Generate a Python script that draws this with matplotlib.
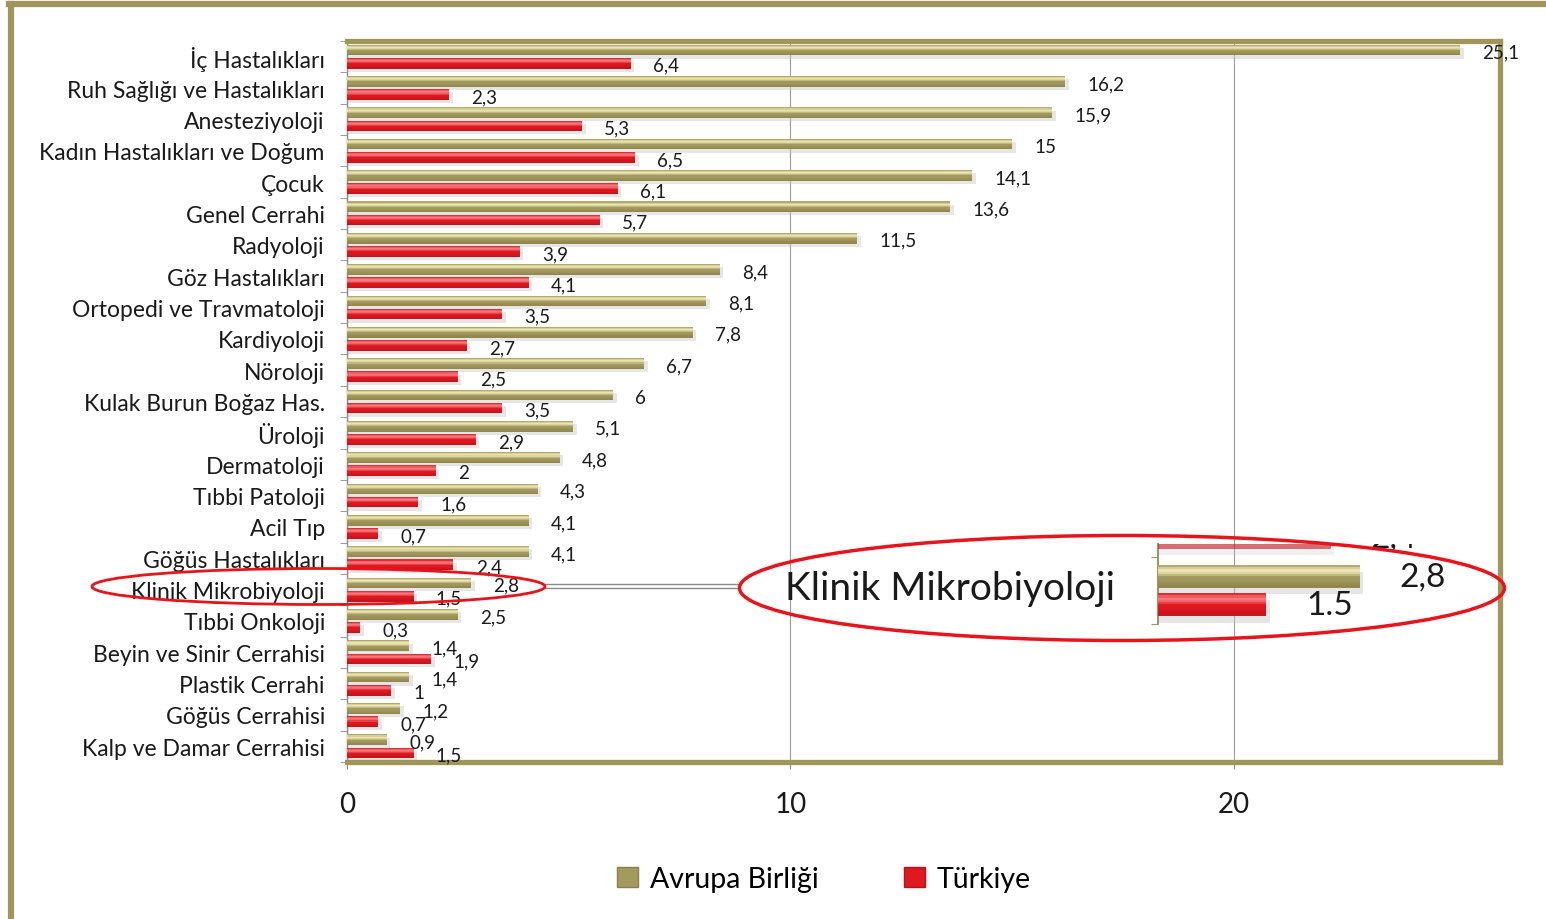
import numpy as np
import matplotlib
matplotlib.use('Agg')
import matplotlib.pyplot as plt
from matplotlib.patches import Ellipse, Patch
from matplotlib.lines import Line2D
from matplotlib.colors import to_rgb
from matplotlib.transforms import offset_copy

plt.rcParams['font.family'] = ['Lato', 'DejaVu Sans']

categories = ['İç Hastalıkları', 'Ruh Sağlığı ve Hastalıkları', 'Anesteziyoloji',
              'Kadın Hastalıkları ve Doğum', 'Çocuk', 'Genel Cerrahi', 'Radyoloji',
              'Göz Hastalıkları', 'Ortopedi ve Travmatoloji', 'Kardiyoloji', 'Nöroloji',
              'Kulak Burun Boğaz Has.', 'Üroloji', 'Dermatoloji', 'Tıbbi Patoloji',
              'Acil Tıp', 'Göğüs Hastalıkları', 'Klinik Mikrobiyoloji', 'Tıbbi Onkoloji',
              'Beyin ve Sinir Cerrahisi', 'Plastik Cerrahi', 'Göğüs Cerrahisi',
              'Kalp ve Damar Cerrahisi']
eu = [25.1, 16.2, 15.9, 15, 14.1, 13.6, 11.5, 8.4, 8.1, 7.8, 6.7, 6, 5.1, 4.8, 4.3,
      4.1, 4.1, 2.8, 2.5, 1.4, 1.4, 1.2, 0.9]
tr = [6.4, 2.3, 5.3, 6.5, 6.1, 5.7, 3.9, 4.1, 3.5, 2.7, 2.5, 3.5, 2.9, 2, 1.6,
      0.7, 2.4, 1.5, 0.3, 1.9, 1, 0.7, 1.5]
xticks = [0, 10, 20]
series = ['Avrupa Birliği', 'Türkiye']
highlight = 'Klinik Mikrobiyoloji'

KHAKI = '#a39a5e'
KHAKI_L = '#ebe4b0'
KHAKI_D = '#8a8048'
RED = '#e01820'
RED_L = '#f47a7e'
RED_D = '#b8121a'
FRAME = '#a0965c'

W, H = 1546, 920
fig = plt.figure(figsize=(W / 100, H / 100), dpi=100)


def fx(px):
    return px / W


def fy(py):
    return 1 - py / H


def fmt(v, sep=','):
    return f'{v:g}'.replace('.', sep)


h = 0.34
off = 0.21
# vertical shading profile of a bar, top -> bottom (0 = base, 1 = light, -1 = dark)
profile = [0.2, 0.7, 1.0, 0.8, 0.4, 0.0, -0.1, -0.3, -0.5, -0.7]


def shade(base, light, dark, t):
    b = np.array(to_rgb(base))
    if t >= 0:
        return tuple(b + (np.array(to_rgb(light)) - b) * t)
    return tuple(b + (np.array(to_rgb(dark)) - b) * (-t))


def bars(ax, ypos, vals, base, light, dark, alpha=1.0, shadow=0.08):
    ypos = np.asarray(ypos, dtype=float)
    vals = np.asarray(vals, dtype=float)
    ax.barh(ypos + 0.1, vals + shadow, height=h, color='#c8c8c8', alpha=0.45 * alpha,
            linewidth=0, zorder=2)
    ns = len(profile)
    dh = h / ns
    for j, t in enumerate(profile):
        yc = ypos - h / 2 + dh * (j + 0.5)
        ax.barh(yc, vals, height=dh * 1.05, color=shade(base, light, dark, t),
                alpha=alpha, linewidth=0, zorder=3)


# main chart
ax = fig.add_axes([fx(347), fy(763), fx(1500) - fx(347), fy(42) - fy(763)])
n = len(categories)
y = np.arange(n)
bars(ax, y - off, eu, KHAKI, KHAKI_L, KHAKI_D)
bars(ax, y + off, tr, RED, RED_L, RED_D)

for i, (a, b) in enumerate(zip(eu, tr)):
    ax.annotate(fmt(a), (a, i - off), xytext=(16, -1.5), textcoords='offset points',
                ha='left', va='center', fontsize=13.5, color='#1a1a1a')
    ax.annotate(fmt(b), (b, i + off), xytext=(16, -1.5), textcoords='offset points',
                ha='left', va='center', fontsize=13.5, color='#1a1a1a')

ax.set_xlim(0, 26)
ax.set_ylim(n - 0.5, -0.5)
ax.set_yticks(y)
ax.set_yticklabels(categories, fontsize=16.5, color='#1a1a1a')
ax.set_yticks(np.arange(n + 1) - 0.5, minor=True)
ax.tick_params(axis='y', which='major', length=0, pad=16)
ax.tick_params(axis='y', which='minor', length=5, color='#8c8c8c', direction='out')
ax.set_xticks(xticks)
ax.tick_params(axis='x', length=5, color='#8c8c8c', labelsize=20, pad=16,
               labelcolor='#1a1a1a')
ax.grid(axis='x', color='#9a9a9a', lw=0.8)
ax.set_axisbelow(True)
ax.spines['left'].set_color('#8c8c8c')
ax.spines['left'].set_linewidth(1)
for s in ['top', 'right', 'bottom']:
    ax.spines[s].set_color(FRAME)
    ax.spines[s].set_linewidth(3.8)

# legend
handles = [Patch(facecolor=KHAKI, edgecolor=KHAKI_D), Patch(facecolor=RED, edgecolor=RED_D)]
fig.legend(handles, series, loc='center', bbox_to_anchor=(fx(824), fy(880)), ncol=2,
           frameon=False, fontsize=20.5, handlelength=0.75, handleheight=0.75,
           handletextpad=0.4, columnspacing=3.0)

# outer frame
fig.add_artist(Line2D([fx(11), fx(11)], [0, fy(5)], transform=fig.transFigure,
                      color=FRAME, lw=4.5))
fig.add_artist(Line2D([fx(9), 1], [fy(5), fy(5)], transform=fig.transFigure,
                      color=FRAME, lw=4.5))

# highlight callout
fig.add_artist(Ellipse((fx(318.5), fy(587.5)), width=453 / W, height=36 / H,
                       transform=fig.transFigure, fill=False, ec='#e8141c', lw=2, zorder=5))
for py in (585, 589):
    fig.add_artist(Line2D([fx(545), fx(740)], [fy(py), fy(py)], transform=fig.transFigure,
                          color='#8a8a8a', lw=1))
fig.add_artist(Ellipse((fx(1122), fy(589)), width=765 / W, height=105 / H,
                       transform=fig.transFigure, fill=False, ec='#e8141c', lw=2.5, zorder=5))
fig.text(fx(785), fy(589), highlight, fontsize=28, ha='left', va='center', color='#1a1a1a')

k = categories.index(highlight)
ins = fig.add_axes([fx(1158), fy(625), fx(1460) - fx(1158), fy(545) - fy(625)])
ins.set_facecolor('none')
bars(ins, [-1 + off], [tr[k - 1]], RED, RED_L, RED_D, alpha=0.6, shadow=0.05)
bars(ins, [-off], [eu[k]], KHAKI, KHAKI_L, KHAKI_D, shadow=0.05)
bars(ins, [off], [tr[k]], RED, RED_L, RED_D, shadow=0.05)
lab_tr = offset_copy(ins.transData, fig=fig, x=40, y=0, units='dots')
ins.text(tr[k - 1], -1 + off, fmt(tr[k - 1]), transform=lab_tr, fontsize=24,
         ha='left', va='center', clip_on=True, color='#1a1a1a')
ins.text(eu[k], -off, fmt(eu[k]), transform=lab_tr, fontsize=24,
         ha='left', va='center', clip_on=True, color='#1a1a1a')
ins.text(tr[k], off, fmt(tr[k], '.'), transform=lab_tr, fontsize=24,
         ha='left', va='center', clip_on=True, color='#1a1a1a')
ins.set_xlim(0, 302 / 72)
ins.set_ylim(0.44, -0.69)
ins.set_xticks([])
ins.set_yticks([-0.5, 0.5])
ins.set_yticklabels([])
ins.tick_params(axis='y', length=5, color='#9a9470', direction='out')
for s in ['top', 'right', 'bottom']:
    ins.spines[s].set_visible(False)
ins.spines['left'].set_color('#9a9470')
ins.spines['left'].set_linewidth(1.5)

fig.savefig('out.png', dpi=100)
